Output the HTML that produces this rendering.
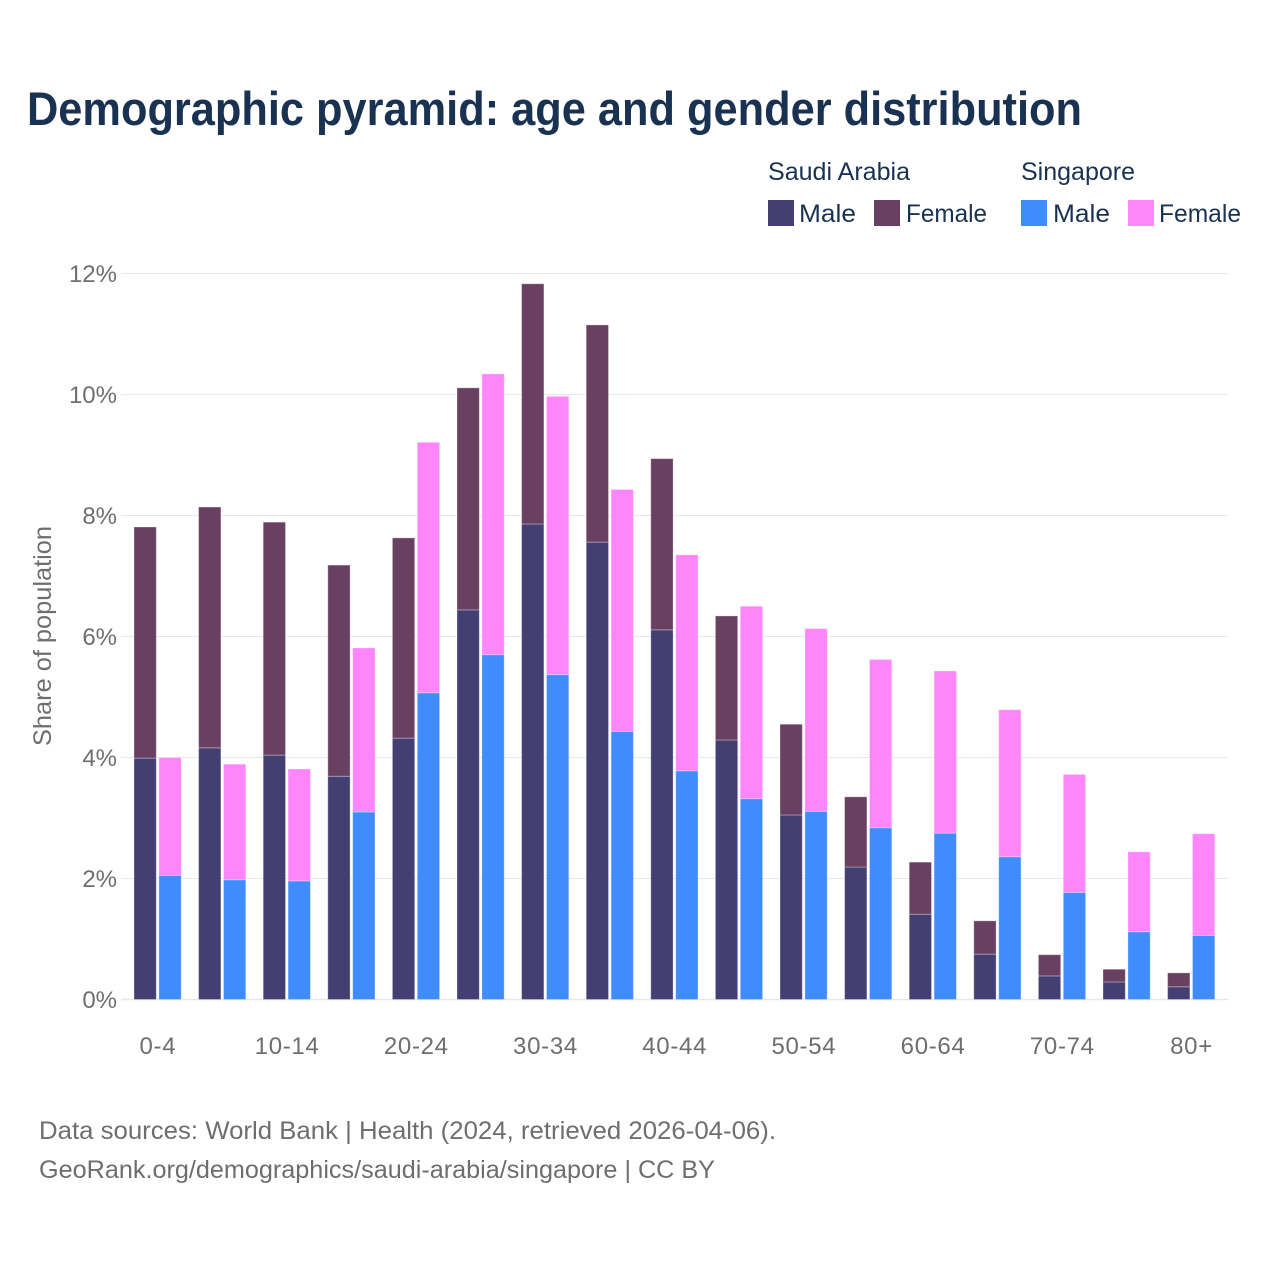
<!DOCTYPE html>
<html lang="en">
<head>
<meta charset="utf-8">
<title>Demographic pyramid: age and gender distribution</title>
<style>
  html, body { margin: 0; padding: 0; background: #ffffff; }
  svg { display: block; font-family: "Liberation Sans", sans-serif; }
</style>
</head>
<body>
<svg id="chart" xmlns="http://www.w3.org/2000/svg" width="1280" height="1280" viewBox="0 0 1280 1280">
  <rect x="0" y="0" width="1280" height="1280" fill="#ffffff"/>
  <text x="27" y="125" font-size="47" font-weight="700" fill="#1a3252" textLength="1055" lengthAdjust="spacingAndGlyphs">Demographic pyramid: age and gender distribution</text>

  <g font-size="25" fill="#1a3252">
    <text x="768" y="180" textLength="142" lengthAdjust="spacingAndGlyphs">Saudi Arabia</text>
    <text x="1021" y="180" textLength="114" lengthAdjust="spacingAndGlyphs">Singapore</text>
    <rect x="768" y="200" width="26" height="26" fill="#433f72"/>
    <text x="799" y="222" textLength="57" lengthAdjust="spacingAndGlyphs">Male</text>
    <rect x="874" y="200" width="26" height="26" fill="#694062"/>
    <text x="906" y="222" textLength="81" lengthAdjust="spacingAndGlyphs">Female</text>
    <rect x="1021" y="200" width="26" height="26" fill="#408cff"/>
    <text x="1053" y="222" textLength="57" lengthAdjust="spacingAndGlyphs">Male</text>
    <rect x="1128" y="200" width="26" height="26" fill="#ff85fb"/>
    <text x="1159" y="222" textLength="82" lengthAdjust="spacingAndGlyphs">Female</text>
  </g>

  <g id="grid"></g>
  <g id="y-ticks"></g>
  <g id="bars"></g>
  <g id="x-ticks"></g>

  <text transform="translate(51,746) rotate(-90)" font-size="25" fill="#6e6e6e" textLength="220" lengthAdjust="spacingAndGlyphs">Share of population</text>

  <text x="39" y="1139" font-size="25" fill="#6e6e6e" textLength="737" lengthAdjust="spacingAndGlyphs">Data sources: World Bank | Health (2024, retrieved 2026-04-06).</text>
  <text x="39" y="1178" font-size="25" fill="#6e6e6e" textLength="676" lengthAdjust="spacingAndGlyphs">GeoRank.org/demographics/saudi-arabia/singapore | CC BY</text>
</svg>
<script>
const categories = ["0-4","5-9","10-14","15-19","20-24","25-29","30-34","35-39","40-44","45-49","50-54","55-59","60-64","65-69","70-74","75-79","80+"];
const xTickLabels = ["0-4","10-14","20-24","30-34","40-44","50-54","60-64","70-74","80+"];
const yTickValues = [0, 2, 4, 6, 8, 10, 12];
const saudiMale = [3.99,4.16,4.04,3.69,4.32,6.44,7.86,7.56,6.11,4.29,3.05,2.19,1.41,0.75,0.39,0.29,0.21];
const saudiFemale = [3.82,3.98,3.85,3.49,3.31,3.67,3.97,3.59,2.83,2.05,1.50,1.16,0.86,0.55,0.35,0.21,0.23];
const singaporeMale = [2.05,1.98,1.96,3.10,5.07,5.70,5.37,4.43,3.78,3.32,3.11,2.84,2.75,2.36,1.77,1.12,1.06];
const singaporeFemale = [1.95,1.91,1.85,2.71,4.14,4.64,4.60,4.00,3.57,3.18,3.02,2.78,2.68,2.43,1.95,1.32,1.68];

const NS = "http://www.w3.org/2000/svg";
const PLOT = { left: 125.6, step: 64.6, baseline: 999.5, perUnit: 60.5 };
const yScale = v => PLOT.baseline - v * PLOT.perUnit;
const xCenter = i => PLOT.left + PLOT.step * (i + 0.5);

const gridLayer = document.getElementById("grid");
const yTickLayer = document.getElementById("y-ticks");
const barLayer = document.getElementById("bars");
const xTickLayer = document.getElementById("x-ticks");

yTickValues.forEach(function (v) {
  const line = document.createElementNS(NS, "line");
  
  
  line.setAttribute("x1", 121);
  line.setAttribute("x2", 1228);
  line.setAttribute("y1", yScale(v));
  line.setAttribute("y2", yScale(v));
  line.setAttribute("stroke", "#e8e8e8");
  line.setAttribute("stroke-width", v === 0 ? 1.6 : 1);
  gridLayer.appendChild(line);

  const label = document.createElementNS(NS, "text");
  
  
  label.setAttribute("x", 117);
  label.setAttribute("y", yScale(v) + 8.5);
  label.setAttribute("text-anchor", "end");
  label.setAttribute("font-size", 24);
  label.setAttribute("fill", "#6e6e6e");
  label.textContent = v + "%";
  yTickLayer.appendChild(label);
});

function drawSegment(x, width, from, to, color) {
  const rect = document.createElementNS(NS, "rect");
  
  
  rect.setAttribute("x", x);
  rect.setAttribute("width", width);
  rect.setAttribute("y", yScale(to));
  rect.setAttribute("height", yScale(from) - yScale(to));
  rect.setAttribute("fill", color);
  rect.setAttribute("stroke", "#ffffff");
  rect.setAttribute("stroke-opacity", "0.3");
  rect.setAttribute("stroke-width", "1");
  barLayer.appendChild(rect);
}

categories.forEach(function (cat, i) {
  const c = xCenter(i);
  drawSegment(c - 23.9, 22.3, 0, saudiMale[i], "#433f72");
  drawSegment(c - 23.9, 22.3, saudiMale[i], saudiMale[i] + saudiFemale[i], "#694062");
  drawSegment(c + 1, 22.3, 0, singaporeMale[i], "#408cff");
  drawSegment(c + 1, 22.3, singaporeMale[i], singaporeMale[i] + singaporeFemale[i], "#ff85fb");

  if (xTickLabels.indexOf(cat) !== -1) {
    const label = document.createElementNS(NS, "text");
    
    
    label.setAttribute("x", c);
    label.setAttribute("y", 1054);
    label.setAttribute("text-anchor", "middle");
    label.setAttribute("font-size", 24);
    label.setAttribute("letter-spacing", "0.7");
    label.setAttribute("fill", "#6e6e6e");
    label.textContent = cat;
    xTickLayer.appendChild(label);
  }
});
</script>
</body>
</html>
